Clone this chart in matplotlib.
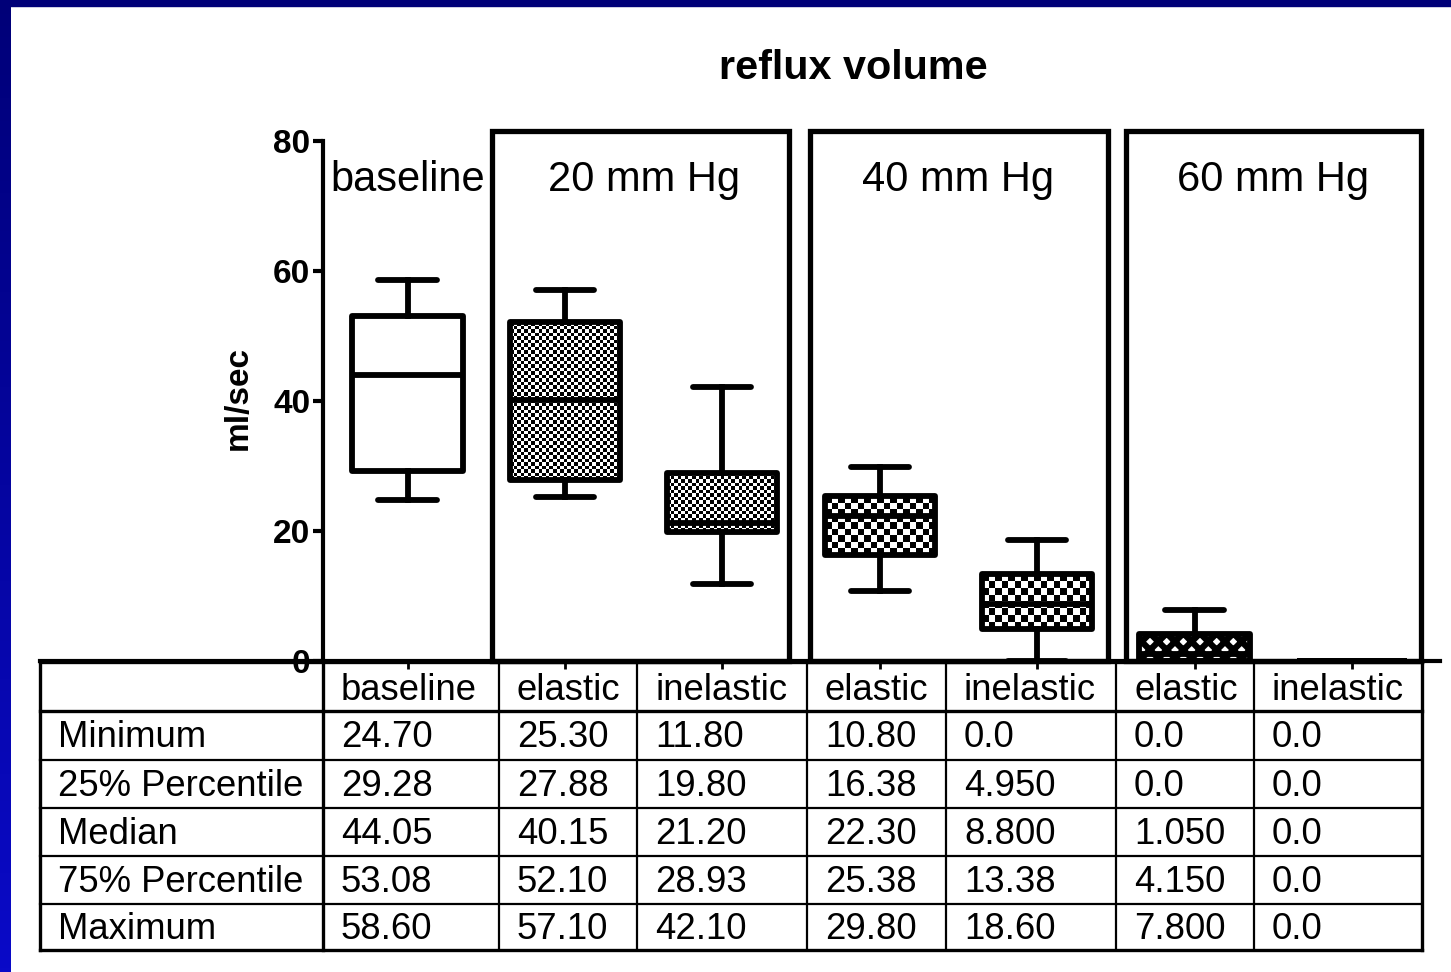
import numpy as np
import matplotlib.pyplot as plt
from matplotlib.patches import Rectangle
from matplotlib.colors import LinearSegmentedColormap

plt.rcParams['font.family'] = ['Liberation Sans', 'DejaVu Sans']

# data
groups = ['baseline', '20 mm Hg', '40 mm Hg', '60 mm Hg']
columns = ['baseline', 'elastic', 'inelastic', 'elastic', 'inelastic', 'elastic', 'inelastic']
row_names = ['Minimum', '25% Percentile', 'Median', '75% Percentile', 'Maximum']
minimum = [24.70, 25.30, 11.80, 10.80, 0.0, 0.0, 0.0]
q25 = [29.28, 27.88, 19.80, 16.38, 4.950, 0.0, 0.0]
median = [44.05, 40.15, 21.20, 22.30, 8.800, 1.050, 0.0]
q75 = [53.08, 52.10, 28.93, 25.38, 13.38, 4.150, 0.0]
maximum = [58.60, 57.10, 42.10, 29.80, 18.60, 7.800, 0.0]
table_text = [
    ['24.70', '25.30', '11.80', '10.80', '0.0', '0.0', '0.0'],
    ['29.28', '27.88', '19.80', '16.38', '4.950', '0.0', '0.0'],
    ['44.05', '40.15', '21.20', '22.30', '8.800', '1.050', '0.0'],
    ['53.08', '52.10', '28.93', '25.38', '13.38', '4.150', '0.0'],
    ['58.60', '57.10', '42.10', '29.80', '18.60', '7.800', '0.0'],
]

W, H = 1451, 972
fig = plt.figure(figsize=(W / 100, H / 100), dpi=100)

# background layer in pixel coords (border + table)
bg = fig.add_axes([0, 0, 1, 1], zorder=0)
grad = np.linspace(0, 1, 256).reshape(-1, 1)
blues = LinearSegmentedColormap.from_list('b', ['#000078', '#0a0ac8'])
bg.imshow(grad, extent=(0, 11, H, 0), cmap=blues, aspect='auto', zorder=1)
bg.add_patch(Rectangle((0, 0), W, 6, color='#000078', zorder=2))
bg.set_xlim(0, W)
bg.set_ylim(H, 0)
bg.axis('off')

# table grid
col_lines = [40, 323, 499, 637, 807, 946, 1116, 1254, 1422]
row_lines = [662, 711, 760, 808, 856, 904, 950]
for i, x in enumerate(col_lines):
    lw = 2.4 if i in (0, 1, len(col_lines) - 1) else 1.6
    bg.plot([x, x], [row_lines[0], row_lines[-1]], color='black', lw=lw, solid_capstyle='projecting')
for j, y in enumerate(row_lines):
    lw = 2.4 if j in (0, 1, len(row_lines) - 1) else 1.6
    bg.plot([col_lines[0], col_lines[-1]], [y, y], color='black', lw=lw, solid_capstyle='projecting')
bg.plot([40, 323], [661, 661], color='black', lw=3)

fs_tab = 26.3
for c, name in enumerate(columns):
    bg.text(col_lines[c + 1] + 18, 690, name, fontsize=fs_tab, va='center', ha='left')
for r, name in enumerate(row_names):
    yc = (row_lines[r + 1] + row_lines[r + 2]) / 2 + 2
    bg.text(58, yc, name, fontsize=fs_tab, va='center', ha='left')
    for c in range(len(columns)):
        bg.text(col_lines[c + 1] + 18, yc, table_text[r][c], fontsize=fs_tab, va='center', ha='left')

# main plot
ax = fig.add_axes([323 / W, (H - 661) / H, (1440 - 323) / W, 520 / H], zorder=1)
ax.patch.set_alpha(0)
positions = np.arange(len(columns))

stats = []
for i in range(len(columns)):
    stats.append({'med': median[i], 'q1': q25[i], 'q3': q75[i],
                  'whislo': minimum[i], 'whishi': maximum[i], 'fliers': []})
lw = 4.2
plt.rcParams['hatch.linewidth'] = 4.5
res = ax.bxp(stats, positions=positions, widths=0.70, capwidths=0.37,
             patch_artist=True, showfliers=False,
             boxprops=dict(facecolor='none', edgecolor='black', linewidth=lw, joinstyle='round'),
             whiskerprops=dict(color='black', linewidth=lw),
             capprops=dict(color='black', linewidth=lw, solid_capstyle='round'),
             medianprops=dict(color='black', linewidth=lw))
for b in res['boxes']:
    b.set_zorder(4)
    b.set_clip_on(False)
for art in res['whiskers'] + res['caps'] + res['medians']:
    art.set_clip_on(False)
    art.set_zorder(4)

# checker fills (cell size in pixels)
cells = [None, 3.5, 3.5, 6.5, 6.5, None, None]
px_per_x = 157.4
px_per_y = 6.5
for i, cs in enumerate(cells):
    if cs is None:
        continue
    x0, x1 = positions[i] - 0.35, positions[i] + 0.35
    nx = int(round((x1 - x0) * px_per_x / cs))
    ny = max(1, int(round((q75[i] - q25[i]) * px_per_y / cs)))
    arr = (np.add.outer(np.arange(ny), np.arange(nx)) % 2).astype(float)
    im = ax.imshow(arr, extent=(x0, x1, q25[i], q75[i]), cmap='gray',
                   interpolation='nearest', aspect='auto', zorder=3)
    im.set_clip_path(res['boxes'][i])
# 60 mm Hg elastic: diamond hatch
res['boxes'][5].set_hatch('xx')

# panel frames
frames = [(0.537, 2.424), (2.557, 4.45), (4.565, 6.44)]
for fx0, fx1 in frames:
    ax.add_patch(Rectangle((fx0, 0), fx1 - fx0, 81.5, fill=False, edgecolor='black',
                           linewidth=3.8, clip_on=False, zorder=2))
ax.text(0, 74, groups[0], fontsize=30, ha='center', va='center')
for k, g in enumerate(groups[1:]):
    ax.text(1.5 + 2 * k, 74, g, fontsize=30, ha='center', va='center')

ax.set_xlim((323 - 407.5) / px_per_x, (1440 - 407.5) / px_per_x)
ax.set_ylim(0, 80)
ax.spines['top'].set_visible(False)
ax.spines['right'].set_visible(False)
ax.spines['left'].set_linewidth(3)
ax.spines['bottom'].set_linewidth(3)
ax.set_xticks(positions)
ax.set_xticklabels([])
ax.tick_params(axis='x', direction='out', length=6, width=2)
ax.set_yticks([0, 20, 40, 60, 80])
ax.set_yticklabels(['0', '20', '40', '60', '80'], fontsize=24, fontweight='bold')
ax.tick_params(axis='y', direction='out', length=7, width=3, pad=2)

fig.text(853 / W, 1 - 68 / H, 'reflux volume', fontsize=29.8, fontweight='bold', ha='center', va='center')
fig.text(238 / W, 1 - 398 / H, 'ml/sec', fontsize=24, fontweight='bold', rotation=90,
         ha='center', va='center')

fig.savefig('out.png', dpi=100)
